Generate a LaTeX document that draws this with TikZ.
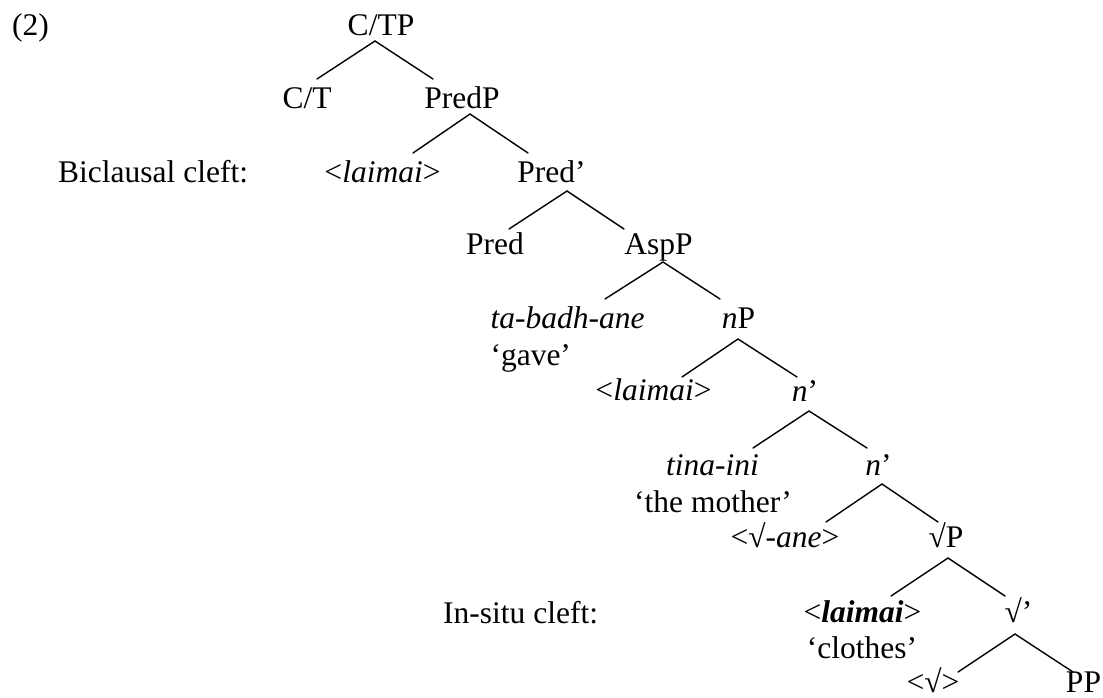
\documentclass[tikz,border=0pt]{standalone}
\usepackage{fontspec}
\setmainfont{Liberation Serif}
\begin{document}
\begin{tikzpicture}[x=1pt,y=-1pt,
  lbl/.style={anchor=base,inner sep=0pt,font=\fontsize{31.5}{37}\selectfont},
  branch/.style={line width=1.4pt,line cap=round}]
\useasboundingbox (0,0) rectangle (1103,697);
% labels
\node[lbl,anchor=base west] (ex) at (12,35) {(2)};
\node[lbl] (ctp) at (381,35) {C/TP};
\node[lbl] (ct) at (307,108) {C/T};
\node[lbl] (predp) at (462,108) {PredP};
\node[lbl,anchor=base west] (bic) at (58,182) {Biclausal cleft:};
\node[lbl] (lai1) at (382.5,182) {<\textit{laimai}>};
\node[lbl] (predbar) at (551.5,182) {Pred’};
\node[lbl] (pred) at (495,254) {Pred};
\node[lbl] (asp) at (658.5,254) {AspP};
\node[lbl] (verb) at (567.5,328) {\textit{ta-badh-ane}};
\node[lbl,anchor=base west] (gave) at ([yshift=-37pt]verb.base west) {‘gave’};
\node[lbl] (np) at (738.5,328) {\textit{n}P};
\node[lbl] (lai2) at (653.5,400) {<\textit{laimai}>};
\node[lbl] (nbar1) at (805,401) {\textit{n}’};
\node[lbl] (tina) at (712.5,475) {\textit{tina-ini}};
\node[lbl] (mother) at (713,512) {‘the mother’};
\node[lbl] (nbar2) at (878.5,475) {\textit{n}’};
\node[lbl] (ane) at (785,547) {<√\textit{-ane}>};
\node[lbl] (rootp) at (946,547) {√P};
\node[lbl,anchor=base west] (insitu) at (443,623) {In-situ cleft:};
\node[lbl] (lai3) at (862.5,622) {<\textbf{\textit{laimai}}>};
\node[lbl] (clothes) at (862,658) {‘clothes’};
\node[lbl] (rootbar) at (1018.5,622) {√’};
\node[lbl] (rt) at (933,692) {<√>};
\node[lbl] (pp) at (1083.5,692) {PP};
% branches
\draw[branch] ([xshift=10pt,yshift=29pt]ct.base) -- ([xshift=-6pt,yshift=-6pt]ctp.base) -- ([xshift=-29pt,yshift=29pt]predp.base);
\draw[branch] ([xshift=30.5pt,yshift=29pt]lai1.base) -- ([xshift=8pt,yshift=-6pt]predp.base) -- ([xshift=-23.5pt,yshift=29pt]predbar.base);
\draw[branch] ([xshift=14pt,yshift=25pt]pred.base) -- ([xshift=15.5pt,yshift=-9pt]predbar.base) -- ([xshift=-34.5pt,yshift=25pt]asp.base);
\draw[branch] ([xshift=37.5pt,yshift=29pt]verb.base) -- ([xshift=4.5pt,yshift=-8pt]asp.base) -- ([xshift=-18.5pt,yshift=29pt]np.base);
\draw[branch] ([xshift=28.5pt,yshift=23pt]lai2.base) -- ([xshift=-0.5pt,yshift=-11pt]np.base) -- ([xshift=-8pt,yshift=24pt]nbar1.base);
\draw[branch] ([xshift=40.5pt,yshift=27pt]tina.base) -- ([xshift=4pt,yshift=-10pt]nbar1.base) -- ([xshift=-11.5pt,yshift=27pt]nbar2.base);
\draw[branch] ([xshift=41pt,yshift=25pt]ane.base) -- ([xshift=3.5pt,yshift=-9pt]nbar2.base) -- ([xshift=-8pt,yshift=25pt]rootp.base);
\draw[branch] ([xshift=28.5pt,yshift=26pt]lai3.base) -- ([xshift=2pt,yshift=-11pt]rootp.base) -- ([xshift=-13.5pt,yshift=26pt]rootbar.base);
\draw[branch] ([xshift=25pt,yshift=20pt]rt.base) -- ([xshift=-3.5pt,yshift=-12pt]rootbar.base) -- ([xshift=-10.5pt,yshift=20pt]pp.base);
\end{tikzpicture}
\end{document}
